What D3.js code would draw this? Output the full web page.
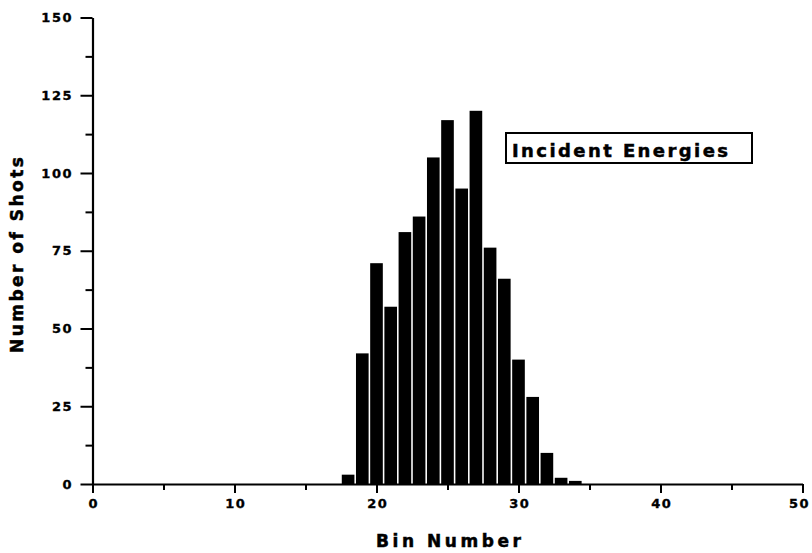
<!DOCTYPE html>
<html>
<head>
<meta charset="utf-8">
<script src="https://cdn.jsdelivr.net/npm/d3@7"></script>
<style>
  html, body { margin: 0; padding: 0; background: #fff; }
  svg { display: block; }
  .tick text { font-family: "DejaVu Sans", sans-serif; font-weight: bold; font-size: 13px; fill: #000; letter-spacing: 1.5px; stroke: #000; stroke-width: 0.35px; }
  .title { font-family: "DejaVu Sans", sans-serif; font-weight: bold; fill: #000; stroke: #000; stroke-width: 0.5px; }
</style>
</head>
<body>
<svg id="chart" width="812" height="553"></svg>
<script>
// ---- data ----
const bins   = [18, 19, 20, 21, 22, 23, 24, 25, 26, 27, 28, 29, 30, 31, 32, 33, 34];
const counts = [3, 42, 71, 57, 81, 86, 105, 117, 95, 120, 76, 66, 40, 28, 10, 2, 1];
const xMajorTicks = [0, 10, 20, 30, 40, 50];
const xMinorTicks = [5, 15, 25, 35, 45];
const yMajorTicks = [0, 25, 50, 75, 100, 125, 150];
const yMinorTicks = [12.5, 37.5, 62.5, 87.5, 112.5, 137.5];
const xTitle = "Bin Number";
const yTitle = "Number of Shots";
const legendLabel = "Incident Energies";

// ---- layout ----
const svg = d3.select("#chart");
const x = d3.scaleLinear().domain([0, 50]).range([92.5, 802.5]);
const y = d3.scaleLinear().domain([0, 150]).range([484, 17.5]);
const barW = (x(1) - x(0)) * 0.89;

// bars
svg.append("g").selectAll("rect")
  .data(bins.map((b, i) => ({ b, c: counts[i] })))
  .join("rect")
  .attr("x", d => x(d.b) - barW / 2)
  .attr("width", barW)
  .attr("y", d => y(d.c))
  .attr("height", d => y(0) - y(d.c))
  .attr("fill", "#000");

// y axis
svg.append("g").attr("transform", `translate(${x(0)},0)`)
  .call(d3.axisLeft(y).tickValues(yMajorTicks).tickSize(12).tickSizeOuter(0).tickPadding(7.5).tickFormat(d3.format("d")));
svg.append("g").attr("transform", `translate(${x(0)},0)`)
  .call(d3.axisLeft(y).tickValues(yMinorTicks).tickSize(7).tickSizeOuter(0).tickFormat(""))
  .select(".domain").remove();

// x axis
const xAxisG = svg.append("g").attr("transform", `translate(0,${y(0)})`)
  .call(d3.axisBottom(x).tickValues(xMajorTicks).tickSize(9).tickSizeOuter(0).tickPadding(6).tickFormat(d3.format("d")));
xAxisG.selectAll(".tick text").attr("dx", d => d === 50 ? "-3.5px" : "0.75px");
svg.append("g").attr("transform", `translate(0,${y(0)})`)
  .call(d3.axisBottom(x).tickValues(xMinorTicks).tickSize(6).tickSizeOuter(0).tickFormat(""))
  .select(".domain").remove();

svg.selectAll(".domain").attr("stroke", "#000").attr("stroke-width", 2.2);
svg.selectAll(".tick line").attr("stroke", "#000").attr("stroke-width", 2);

// axis titles
svg.append("text").attr("class", "title")
  .attr("x", 376).attr("y", 547)
  .attr("textLength", 145).attr("lengthAdjust", "spacing")
  .style("font-size", "17px")
  .text(xTitle);

svg.append("text").attr("class", "title")
  .attr("transform", "translate(23,353) rotate(-90)")
  .attr("textLength", 196).attr("lengthAdjust", "spacing")
  .style("font-size", "17px")
  .text(yTitle);

// legend box
svg.append("rect")
  .attr("x", 506).attr("y", 133).attr("width", 246).attr("height", 30)
  .attr("fill", "#fff").attr("stroke", "#000").attr("stroke-width", 2);
svg.append("text").attr("class", "title")
  .attr("x", 512).attr("y", 156.5)
  .attr("textLength", 216).attr("lengthAdjust", "spacing")
  .style("font-size", "18px")
  .text(legendLabel);
</script>
</body>
</html>
